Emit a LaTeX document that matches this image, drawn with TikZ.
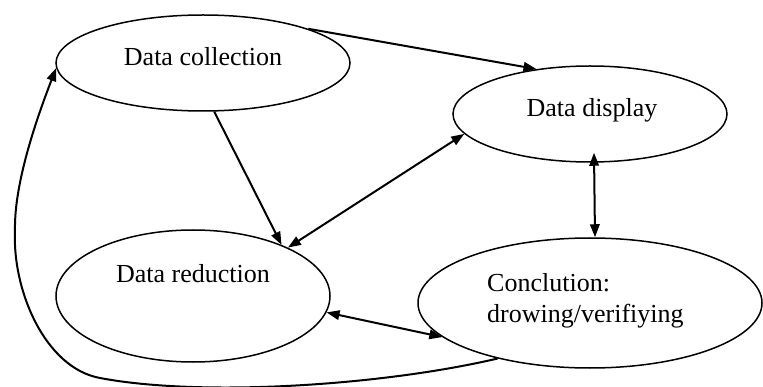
\documentclass[tikz,border=0pt]{standalone}
\usepackage{fontspec}
\setmainfont{Liberation Serif}
\usetikzlibrary{shapes.geometric,arrows.meta}
\begin{document}
\begin{tikzpicture}[x=1pt,y=-1pt,
  oval/.style={draw, ellipse, line width=1.5pt, inner sep=0pt},
  lbl/.style={font=\fontsize{26}{30}\selectfont, inner sep=0pt, anchor=base},
  tipa/.tip={Triangle[length=13pt,width=9.5pt]},
  conn/.style={line width=2pt, -tipa},
  conn2/.style={line width=2pt, tipa-tipa}]
\useasboundingbox (0,0) rectangle (763,387);

\node[oval, minimum width=294pt, minimum height=96pt] (dc) at (203,63) {};
\node[oval, minimum width=274pt, minimum height=96pt] (dd) at (590,114) {};
\node[oval, minimum width=274pt, minimum height=132pt] (dr) at (193,296) {};
\node[oval, minimum width=344pt, minimum height=130pt] (cc) at (590,303) {};

\node[lbl] (tdc) at (203,66) {Data collection};
\node[lbl] (tdd) at (592,117) {Data display};
\node[lbl] (tdr) at (193,283) {Data reduction};
\node[lbl, anchor=base west] (tcc1) at (487,292) {Conclution:};
\node[lbl, anchor=base west] (tcc2) at (487,323) {drowing/verifiying};

\draw[conn] (dc.18) -- (dd.140);
\draw[conn] (dc.283) -- (dr.30);
\draw[conn2] (dd.189) -- (dr.27);
\draw[conn2] ([xshift=4pt,yshift=10pt]dd.south) -- ([xshift=5pt]cc.north);
\draw[conn2] (dr.353) -- (cc.193);

\coordinate (b1) at (100,378);
\coordinate (b2) at (15,230);
\draw[conn] (cc.211) .. controls (380,386) and (200,397) .. (b1)
  .. controls (45,368) and (12,290) .. (b2)
  .. controls (14,180) and (40,110) .. (dc.182);
\end{tikzpicture}
\end{document}
